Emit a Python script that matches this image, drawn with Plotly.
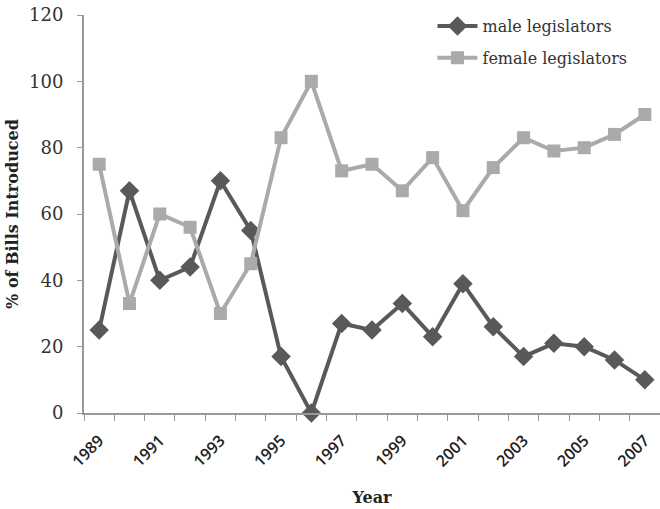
import plotly.graph_objects as go

# Share of bills introduced, by sponsor gender
years = [str(y) for y in range(1989, 2008)]
male_legislators = [25, 67, 40, 44, 70, 55, 17, 0, 27, 25, 33, 23, 39, 26, 17, 21, 20, 16, 10]
female_legislators = [75, 33, 60, 56, 30, 45, 83, 100, 73, 75, 67, 77, 61, 74, 83, 79, 80, 84, 90]
y_ticks = [0, 20, 40, 60, 80, 100, 120]
# label every other year
x_ticktext = [y if (int(y) - 1989) % 2 == 0 else "" for y in years]

SERIF = "DejaVu Serif"
SANS = "Open Sans"

fig = go.Figure()
fig.add_trace(go.Scatter(
    x=years, y=male_legislators, name="male legislators", legendgroup="m",
    mode="lines+markers", cliponaxis=False,
    line=dict(color="#595959", width=4),
    marker=dict(symbol="diamond", size=15, color="#595959"),
))
fig.add_trace(go.Scatter(
    x=years, y=female_legislators, name="female legislators", legendgroup="f",
    mode="lines+markers", cliponaxis=False,
    line=dict(color="#aaaaaa", width=4),
    marker=dict(symbol="square", size=13, color="#aaaaaa"),
))

fig.update_layout(
    width=660, height=509,
    margin=dict(l=84, r=0, t=15, b=96),
    paper_bgcolor="white", plot_bgcolor="white",
    font=dict(family=SERIF, color="#333333"),
    showlegend=True,
    legend=dict(
        x=0.605, y=1.015, xanchor="left", yanchor="top",
        font=dict(family=SERIF, size=16, color="#333333"),
        bgcolor="rgba(0,0,0,0)", traceorder="grouped", tracegroupgap=8,
        itemwidth=40,
    ),
    xaxis=dict(
        type="category", range=[-0.5, 18.5],
        tickmode="array", tickvals=years, ticktext=x_ticktext,
        tickson="boundaries", ticks="outside", ticklen=6, tickcolor="#999999",
        tickangle=-45, ticklabelstandoff=10,
        tickfont=dict(family=SANS, size=16, color="#222222", weight=600),
        showline=True, linecolor="#999999", linewidth=2,
        showgrid=False, zeroline=False,
        title=dict(text="<b>Year</b>", font=dict(family=SERIF, size=16, color="#222222"), standoff=22),
    ),
    yaxis=dict(
        range=[0, 120], tickmode="array", tickvals=y_ticks,
        ticks="outside", ticklen=5, tickcolor="#999999", ticklabelstandoff=10,
        tickfont=dict(family=SERIF, size=18, color="#333333"),
        showline=True, linecolor="#999999", linewidth=2,
        showgrid=False, zeroline=False,
        title=dict(text="<b>% of Bills Introduced</b>", font=dict(family=SERIF, size=16, color="#222222"), standoff=6),
    ),
)

fig.write_html("out.html")
